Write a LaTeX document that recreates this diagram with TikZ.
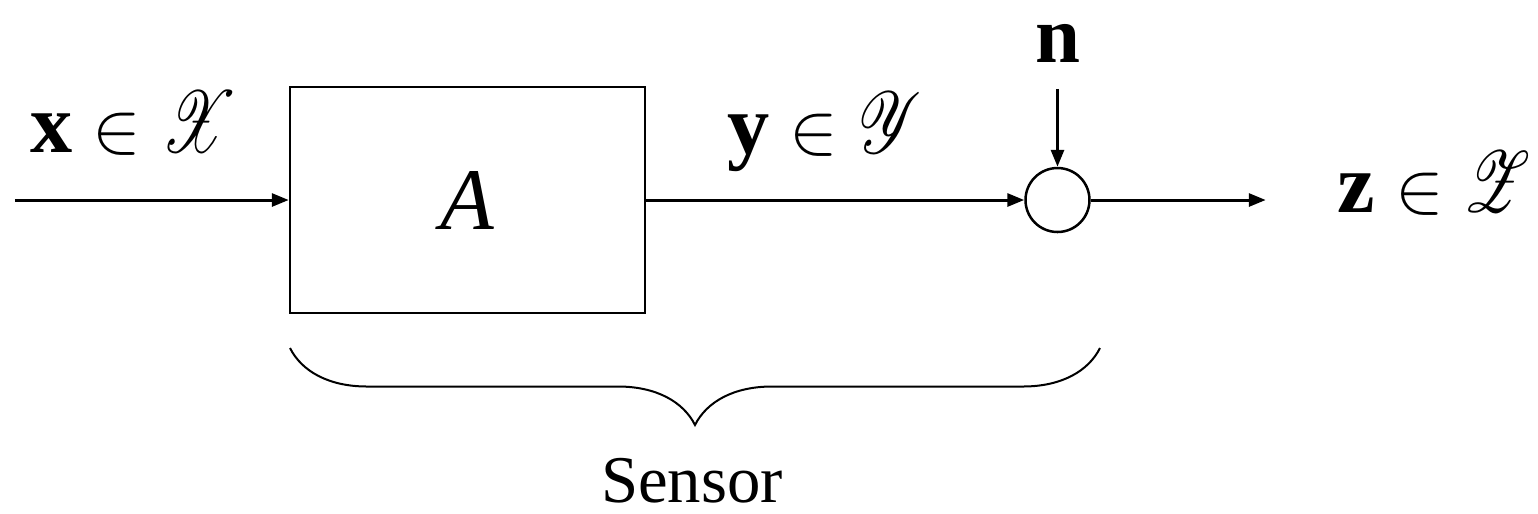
\documentclass[tikz,border=0pt]{standalone}
\usepackage{amssymb}
\usepackage{mathrsfs}
\usepackage{graphicx}
\usepackage{fontspec}
\setmainfont{Liberation Serif}
\usetikzlibrary{arrows.meta, positioning, decorations.pathreplacing}
\newcommand{\calSet}[1]{\scalebox{0.72}[1]{$\mathscr{#1}$}}
\newcommand{\elemOf}{{\fontsize{20}{24}\selectfont$\in$}}
\tikzstyle{arrow} = [line width=0.03cm, -{Triangle[length=0.17cm, width=0.13cm]}]
\tikzstyle{block} = [
                rectangle,
                minimum width = 3.55cm,
                minimum height = 2.26cm,
                draw=black,
                line width=0.025cm
            ]
\tikzstyle{sumNode} = [
                circle,
                minimum size = 0.64cm,
                draw=black,
                line width=0.025cm,
                inner sep=0cm
            ]
\tikzstyle{mathLabel} = [font=\fontsize{24}{29}\selectfont, inner sep=0cm, anchor=base west]
\tikzstyle{textLabel} = [font=\fontsize{19}{23}\selectfont, inner sep=0cm]

\begin{document}
\begin{tikzpicture}
                            \useasboundingbox (0,0) rectangle (15.38,-5.13);
                            \node (A) [block] at (4.675,-2.0) {\fontsize{25}{30}\selectfont\textit{A}};
                            \node (sum) [sumNode, right=3.78cm of A] {};
                            \node (n) [font=\fontsize{23}{28}\selectfont, inner sep=0cm, above=1.04cm of sum] {\textbf{n}};
                            \coordinate (in) at (0.15,-2.0);
                            \coordinate (out) at ([xshift=1.75cm]sum.east);
                            \node (xlab) [mathLabel] at (0.30,-1.52) {\textbf{x}\hspace{0.2cm}\elemOf\hspace{0.2cm}\calSet{X}};
                            \node (ylab) [mathLabel] at (7.27,-1.53) {\textbf{y}\hspace{0.2cm}\elemOf\hspace{0.2cm}\calSet{Y}};
                            \node (zlab) [mathLabel] at (13.37,-2.12) {\textbf{z}\hspace{0.2cm}\elemOf\hspace{0.2cm}\calSet{Z}};
                            \draw [arrow] (in) -- (A);
                            \draw [arrow] (A) -- (sum);
                            \draw [arrow, shorten <=0.26cm] (n) -- (sum);
                            \draw [arrow] (sum) -- (out);
                            % brace under the sensor part
                            \coordinate (braceL) at (2.90,-3.48);
                            \coordinate (braceR) at (11.0,-3.48);
                            \draw [line width=0.02cm, decorate, decoration={brace, mirror, amplitude=0.77cm}] (braceL) -- (braceR);
                            \node (sensor) [textLabel, anchor=base] at (6.92,-5.02) {Sensor};
                        \end{tikzpicture}
\end{document}
